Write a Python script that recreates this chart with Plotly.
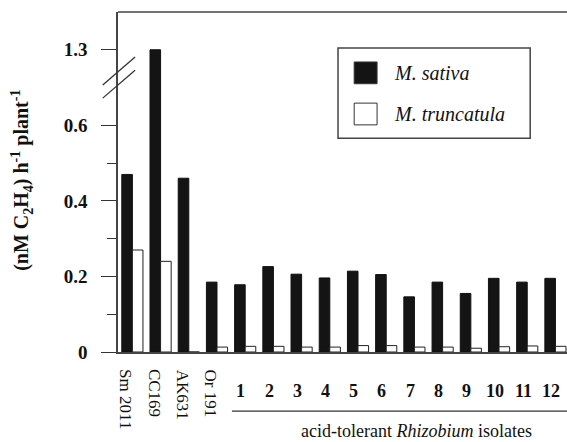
import plotly.graph_objects as go

# ---- data ----
categories = ["Sm 2011", "CC169", "AK631", "Or 191",
              "1", "2", "3", "4", "5", "6", "7", "8", "9", "10", "11", "12"]
rotated_labels = ["Sm 2011", "CC169", "AK631", "Or 191"]
series_names = ["M. sativa", "M. truncatula"]
m_sativa = [0.47, 1.30, 0.46, 0.185, 0.178, 0.226, 0.206, 0.196, 0.214, 0.205,
            0.146, 0.185, 0.155, 0.195, 0.185, 0.195]
m_truncatula = [0.27, 0.24, 0.0, 0.013, 0.015, 0.015, 0.013, 0.013, 0.017, 0.017,
                0.013, 0.013, 0.010, 0.014, 0.016, 0.015]
y_tick_vals_real = [0, 0.2, 0.4, 0.6, 1.3]
y_tick_text = ["0", "0.2", "0.4", "0.6", "1.3"]
y_minor_real = [0.1, 0.3, 0.5]
group_label = "acid-tolerant <i>Rhizobium</i> isolates"
y_title = "<b>(nM C<sub>2</sub>H<sub>4</sub>) h<sup>-1</sup> plant<sup>-1</sup></b>"

# axis break: values above 0.6 are shifted down
BREAK_AT = 0.6
BREAK_SHIFT = 0.5


def to_axis(v):
    return v if v <= BREAK_AT else v - BREAK_SHIFT


SERIF = "Liberation Serif, Times New Roman, serif"
idx = list(range(len(categories)))

fig = go.Figure()
fig.add_trace(go.Bar(
    x=idx, y=[to_axis(v) for v in m_sativa], customdata=m_sativa,
    name=series_names[0], marker=dict(color="#141414", line=dict(color="#111", width=1)),
    hovertemplate="%{customdata}<extra>M. sativa</extra>"))
fig.add_trace(go.Bar(
    x=idx, y=[to_axis(v) for v in m_truncatula], customdata=m_truncatula,
    name=series_names[1], marker=dict(color="white", line=dict(color="#222", width=1)),
    hovertemplate="%{customdata}<extra>M. truncatula</extra>"))

fig.update_layout(
    width=567, height=442,
    margin=dict(l=118, r=0, t=12, b=90),
    paper_bgcolor="white", plot_bgcolor="white",
    barmode="group", bargap=0.25, bargroupgap=0,
    showlegend=False,
    font=dict(family=SERIF, color="#111"),
)
fig.update_xaxes(
    range=[-0.51, 15.41], showticklabels=False, ticks="",
    showline=True, linecolor="#444", linewidth=1.5, showgrid=False, zeroline=False)
fig.update_yaxes(
    range=[0, 0.9], tickmode="array",
    tickvals=[to_axis(v) for v in y_tick_vals_real], ticktext=y_tick_text,
    ticks="outside", ticklen=15, tickwidth=1.2, tickcolor="#333",
    ticklabelstandoff=10,
    tickfont=dict(family=SERIF, size=19, color="#111", weight="bold"),
    minor=dict(tickmode="array", tickvals=[to_axis(v) for v in y_minor_real],
               ticks="outside", ticklen=9, tickwidth=1.2, tickcolor="#333"),
    showline=True, linecolor="#444", linewidth=1.5, showgrid=False, zeroline=False)

# top frame line
fig.add_shape(type="line", xref="paper", yref="paper", x0=0, x1=1, y0=1, y1=1,
              line=dict(color="#444", width=1.5))

# axis-break marks
for dy in (0.0, -0.035):
    fig.add_shape(type="line", xref="paper", yref="y",
                  x0=-0.034, x1=0.038, y0=0.707 + dy, y1=0.781 + dy,
                  line=dict(color="#333", width=1.3))

# category labels
for i, c in enumerate(categories):
    if c in rotated_labels:
        fig.add_annotation(x=i - 0.22, xref="x", y=-0.045, yref="paper",
                           text=c, textangle=90, showarrow=False,
                           xanchor="center", yanchor="top",
                           font=dict(family=SERIF, size=17, color="#111"))
    else:
        fig.add_annotation(x=i - 0.15, xref="x", y=-0.115, yref="paper",
                           text="<b>" + c + "</b>", showarrow=False,
                           xanchor="center", yanchor="middle",
                           font=dict(family=SERIF, size=18, color="#111"))

# underline + group label
fig.add_shape(type="line", xref="x", yref="paper", x0=3.53, x1=15.41,
              y0=-0.174, y1=-0.174, line=dict(color="#333", width=1.2))
fig.add_annotation(x=10.09, xref="x", y=-0.232, yref="paper", text=group_label,
                   showarrow=False, xanchor="center", yanchor="middle",
                   font=dict(family=SERIF, size=18, color="#111"))

# y-axis title
fig.add_annotation(x=-0.214, xref="paper", y=0.506, yref="paper", text=y_title,
                   textangle=-90, showarrow=False, xanchor="center", yanchor="middle",
                   font=dict(family=SERIF, size=20, color="#111"))

# legend (drawn manually)
fig.add_shape(type="rect", xref="paper", yref="paper", x0=0.490, x1=0.918,
              y0=0.629, y1=0.894, line=dict(color="#444", width=1.5), fillcolor="white")
legend_rows = [(0.821, "#141414"), (0.700, "white")]
for (yc, col), name in zip(legend_rows, series_names):
    fig.add_shape(type="rect", xref="paper", yref="paper", x0=0.526, x1=0.577,
                  y0=yc - 0.032, y1=yc + 0.032, fillcolor=col,
                  line=dict(color="#333", width=1))
    fig.add_annotation(x=0.610, xref="paper", y=yc, yref="paper",
                       text="<i>" + name + "</i>", showarrow=False,
                       xanchor="left", yanchor="middle",
                       font=dict(family=SERIF, size=20, color="#111"))

fig.write_html(
    "out.html",
    config={"displayModeBar": False},
    post_script="document.body.style.margin='0';document.body.style.padding='0';",
)
